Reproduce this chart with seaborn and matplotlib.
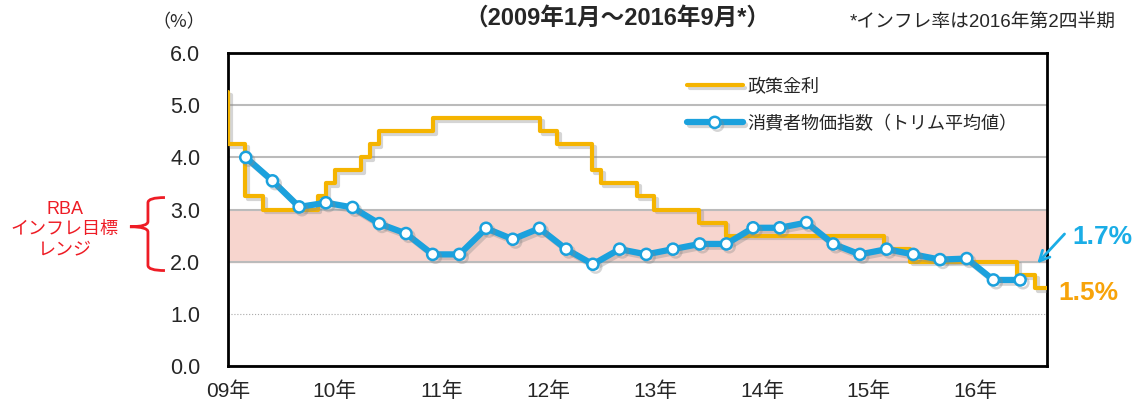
import numpy as np
import pandas as pd
import matplotlib.pyplot as plt
import matplotlib.patheffects as pe
from matplotlib.path import Path
from matplotlib.patches import PathPatch
from matplotlib.transforms import blended_transform_factory
import seaborn as sns

# CPI (trimmed mean, y/y %), quarterly 2009Q1 - 2016Q2
cpi_values = [4.0, 3.55, 3.05, 3.13, 3.04, 2.73, 2.54, 2.14, 2.14, 2.64,
              2.43, 2.64, 2.24, 1.95, 2.24, 2.14, 2.24, 2.34, 2.34, 2.65,
              2.65, 2.75, 2.34, 2.14, 2.24, 2.14, 2.04, 2.06, 1.65, 1.65]
cpi_dates = [2009 + (3 * i + 2) / 12 for i in range(len(cpi_values))]

# RBA cash rate: date of change (fractional year) and new level
rate_dates = [2008.92, 2009.0, 2009.16, 2009.33, 2009.84, 2009.92, 2010.0,
              2010.25, 2010.33, 2010.41, 2010.92, 2011.92, 2012.08, 2012.41,
              2012.49, 2012.83, 2012.99, 2013.41, 2013.66, 2015.14, 2015.39,
              2016.39, 2016.56, 2016.67]
rate_values = [5.25, 4.25, 3.25, 3.0, 3.25, 3.5, 3.75, 4.0, 4.25, 4.5, 4.75,
               4.5, 4.25, 3.75, 3.5, 3.25, 3.0, 2.75, 2.5, 2.25, 2.0, 1.75,
               1.5, 1.5]

years = list(range(2009, 2017))
year_labels = ['09年', '10年', '11年', '12年', '13年', '14年', '15年', '16年']
y_ticks = [0, 1, 2, 3, 4, 5, 6]

cpi = pd.DataFrame({'date': cpi_dates, 'value': cpi_values})
rate = pd.DataFrame({'date': rate_dates, 'value': rate_values})

sns.set_theme(style='white')
plt.rcParams['font.family'] = ['Liberation Sans', 'Noto Sans CJK JP']
narrow = ['Liberation Sans Narrow', 'Liberation Sans', 'Noto Sans CJK JP']
jp = ['Noto Sans CJK JP', 'DejaVu Sans']

orange = '#F5B400'
blue = '#1BA1DD'

fig = plt.figure(figsize=(11.37, 4.05), dpi=100)
ax = fig.add_axes([0.2005, 0.0963, 0.7205, 0.7727])

ax.axhspan(2, 3, color='#F7D5CE', zorder=0)

shadow = [pe.SimpleLineShadow(offset=(2, -2), shadow_color='#888888', alpha=0.35),
          pe.Normal()]

sns.lineplot(data=rate, x='date', y='value', ax=ax, color=orange, linewidth=3,
             drawstyle='steps-post', label='政策金利', zorder=3)
sns.lineplot(data=cpi, x='date', y='value', ax=ax, color=blue, linewidth=4.5,
             marker='o', markersize=8, markerfacecolor='white',
             markeredgecolor=blue, markeredgewidth=1.8,
             label='消費者物価指数（トリム平均値）', zorder=4)
for line in ax.lines:
    line.set_path_effects(shadow)

ax.set_xlim(2009.0, 2016.67)
ax.set_ylim(0, 6)
ax.set_xticks(years)
ax.set_xticklabels(year_labels, family=narrow, fontsize=15)
ax.set_yticks(y_ticks)
ax.set_yticklabels([f'{v:.1f}' for v in y_ticks], fontsize=15.5)
ax.set_xlabel('')
ax.set_ylabel('')
ax.tick_params(axis='x', direction='in', length=5, width=0.8, color='#888888', pad=11)
ax.tick_params(axis='y', length=0, pad=20)
for s in ax.spines.values():
    s.set_color('black')
    s.set_linewidth(2)

ax.yaxis.grid(True, color='#BBBBBB', linewidth=1.5, zorder=1)
ax.xaxis.grid(False)
for v, gl in zip(y_ticks, ax.get_ygridlines()):
    if v == 1:
        gl.set_linestyle(':')
        gl.set_linewidth(0.8)
        gl.set_color('#AAAAAA')
ax.set_axisbelow(True)

leg = ax.legend(loc='upper left', bbox_to_anchor=(0.549, 0.95), frameon=False,
                prop={'family': jp, 'size': 13}, handlelength=3.1,
                handletextpad=0.25, labelspacing=1.05, borderpad=0)

# title and notes
fig.text(0.543, 0.955, '（2009年1月～2016年9月*）', ha='center', va='center',
         family=narrow, fontsize=17, fontweight='bold')
fig.text(0.981, 0.945, '*インフレ率は2016年第2四半期', ha='right', va='center',
         family=narrow, fontsize=13.5)
fig.text(0.157, 0.945, '（%）', ha='center', va='center', family=jp, fontsize=13)

# RBA target range annotation with brace
bt = blended_transform_factory(ax.transAxes, ax.transData)
fx = lambda px: (px - 228) / 819
verts = [(fx(165), 3.23), (fx(148), 3.23), (fx(148), 3.13), (fx(148), 2.77),
         (fx(148), 2.67), (fx(130), 2.67), (fx(148), 2.67), (fx(148), 2.57),
         (fx(148), 1.93), (fx(148), 1.83), (fx(165), 1.83)]
codes = [Path.MOVETO, Path.CURVE3, Path.CURVE3, Path.LINETO, Path.CURVE3,
         Path.CURVE3, Path.CURVE3, Path.CURVE3, Path.LINETO, Path.CURVE3,
         Path.CURVE3]
ax.add_patch(PathPatch(Path(verts, codes), transform=bt, fill=False,
                       edgecolor='#EE1C25', linewidth=2, clip_on=False))
ax.text(fx(65), 2.62, 'RBA\nインフレ目標\nレンジ', transform=bt, ha='center',
        va='center', color='#EE1C25', fontsize=13, linespacing=1.25,
        family=['Liberation Sans', 'Noto Sans CJK JP'])

# latest value labels
ax.annotate('', xy=(2016.56, 1.93), xytext=(2016.85, 2.57),
            arrowprops=dict(arrowstyle='->', color='#1AADE6', lw=2,
                            mutation_scale=18), annotation_clip=False)
ax.text(2017.19, 2.47, '1.7%', ha='center', va='center', color='#1AADE6',
        fontsize=19, fontweight='bold', clip_on=False)
ax.text(2017.06, 1.40, '1.5%', ha='center', va='center', color='#F7A30A',
        fontsize=19, fontweight='bold', clip_on=False)

plt.savefig('out.png', dpi=100)
